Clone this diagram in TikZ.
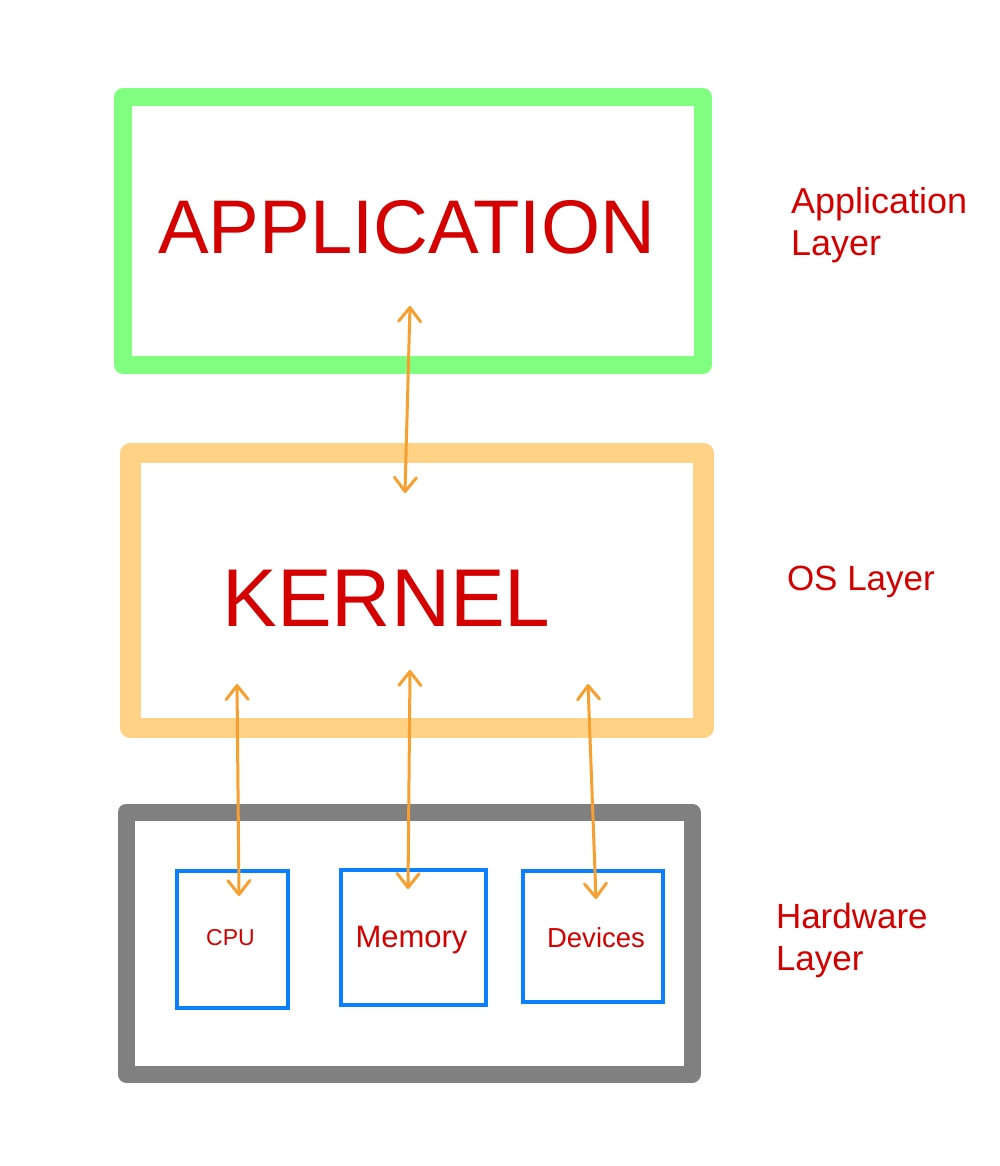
\documentclass[tikz,border=0pt]{standalone}
\usepackage{fontspec}
\setmainfont{Liberation Sans}
\usetikzlibrary{arrows.meta}
\definecolor{appgreen}{HTML}{80FF80}
\definecolor{osorange}{HTML}{FFD285}
\definecolor{hwgray}{HTML}{808080}
\definecolor{devblue}{HTML}{0A80FF}
\definecolor{txtred}{HTML}{D40000}
\definecolor{arrorange}{HTML}{F7A02F}
\tikzset{
  layerbox/.style={draw, rectangle, inner sep=0pt, outer sep=0pt, line join=round},
  devbox/.style={draw=devblue, line width=3.2pt, rectangle, inner sep=0pt, outer sep=0pt},
  redtext/.style={text=txtred, inner sep=0pt, outer sep=0pt},
  sidelabel/.style={redtext, align=left, anchor=base west},
  link/.style={draw=arrorange, line width=3pt, line cap=round, line join=round,
    {Straight Barb[length=14pt,width=22pt,line cap=round,line join=round]}-{Straight Barb[length=14pt,width=22pt,line cap=round,line join=round]}}
}
\begin{document}
\begin{tikzpicture}[x=1pt,y=-1pt]
\useasboundingbox (0,0) rectangle (1000,1166);
% layer boxes
\node[layerbox, draw=appgreen, line width=18pt, minimum width=580pt, minimum height=268pt] (app) at (413,231) {};
\node[layerbox, draw=osorange, line width=20.5pt, minimum width=573pt, minimum height=275pt] (os) at (417,590.5) {};
\node[layerbox, draw=hwgray, line width=17pt, minimum width=566pt, minimum height=262pt] (hw) at (409,943) {};
% device boxes
\node[devbox, minimum width=111pt, minimum height=137pt] (cpu) at (232.5,939.5) {};
\node[devbox, minimum width=145pt, minimum height=135pt] (mem) at (413.5,937.5) {};
\node[devbox, minimum width=140pt, minimum height=131pt] (dev) at (593,936.5) {};
% texts
\node[redtext, anchor=base, font=\fontsize{76}{80}\selectfont] (apptext) at (406.5,253) {APPLICATION};
\node[redtext, anchor=base, font=\fontsize{82}{86}\selectfont] (kerntext) at (386.5,626) {KERNEL};
\node[redtext, anchor=base, font=\fontsize{23}{26}\selectfont] (cputext) at (230.5,945) {CPU};
\node[redtext, anchor=base, font=\fontsize{31}{34}\selectfont] (memtext) at (411.5,947) {Memory};
\node[redtext, anchor=base, font=\fontsize{27.5}{30}\selectfont] (devtext) at (596,947) {Devices};
\node[sidelabel, font=\fontsize{36}{42}\selectfont] (applabel) at (791,255) {Application\\Layer};
\node[sidelabel, font=\fontsize{35}{42}\selectfont] (oslabel) at (787,590) {OS Layer};
\node[sidelabel, font=\fontsize{35}{42}\selectfont] (hwlabel) at (776,970) {Hardware\\Layer};
% connector end points
\coordinate (a1) at (410,306);
\coordinate (k1) at (405,493);
\coordinate (k2) at (237,684);
\coordinate (c1) at (239,896);
\coordinate (k3) at (410,670);
\coordinate (m1) at (408,889);
\coordinate (k4) at (588,684);
\coordinate (d1) at (596,899);
% connectors
\draw[link] (a1) -- (k1);
\draw[link] (k2) -- (c1);
\draw[link] (k3) -- (m1);
\draw[link] (k4) -- (d1);
\end{tikzpicture}
\end{document}
